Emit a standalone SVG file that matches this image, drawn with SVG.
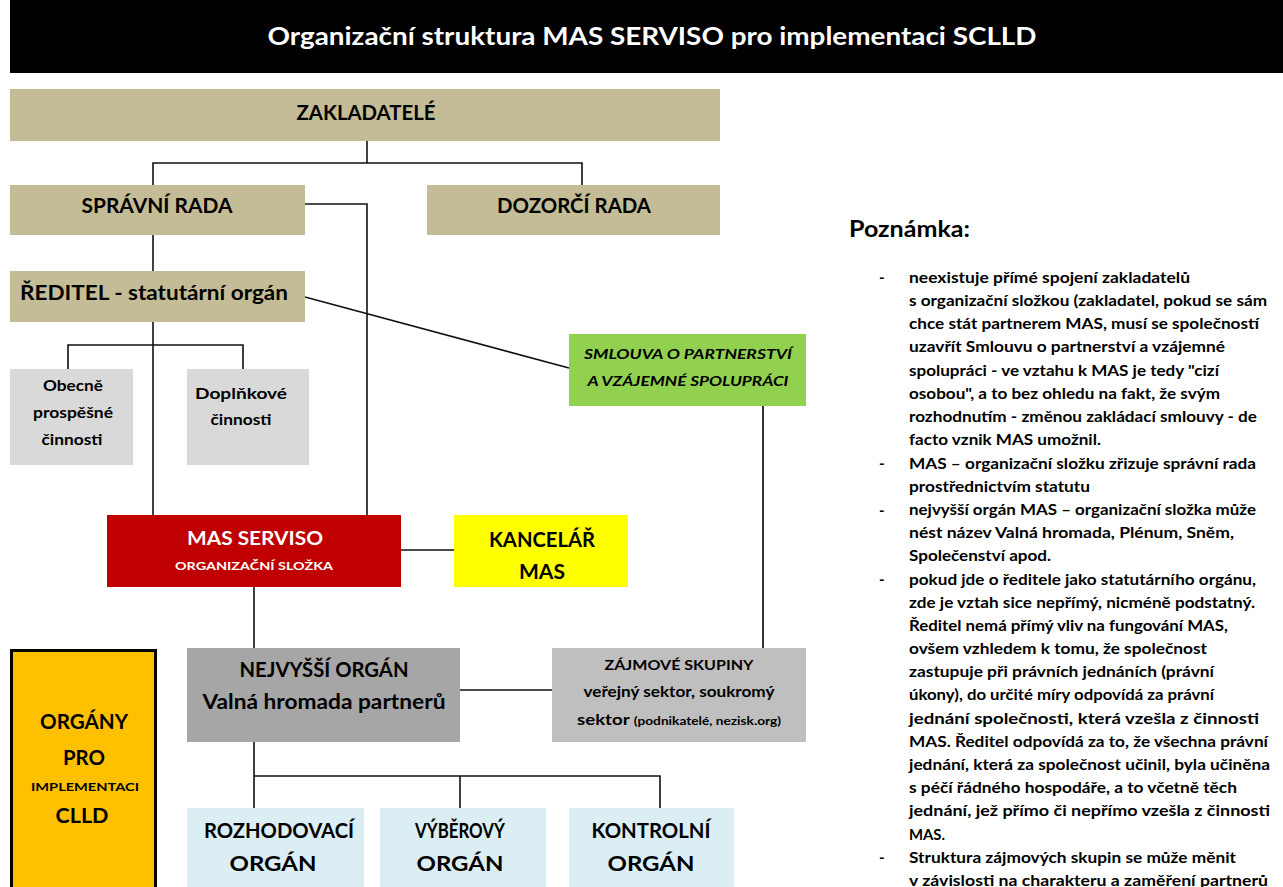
<svg xmlns="http://www.w3.org/2000/svg" width="1283" height="887" viewBox="0 0 1283 887">
<style>
text{font-family:Lato,"Open Sans","Liberation Sans",sans-serif;font-weight:bold;fill:#000;}
.c{text-anchor:middle;}
.tan{fill:#C4BC96;}
.grey{fill:#D9D9D9;}
.blue{fill:#DAEEF3;}
.ln{stroke:#111;stroke-width:1.6;fill:none;}
.note{font-size:15px;}
</style>
<rect x="10" y="0" width="1273" height="73" fill="#000"/>
<text x="652" y="45" class="c" style="fill:#fff;font-size:25px" textLength="769" lengthAdjust="spacingAndGlyphs">Organizační struktura MAS SERVISO pro implementaci SCLLD</text>

<g id="connectors">
<polyline class="ln" points="367,141 367,163"/>
<polyline class="ln" points="153,185 153,163 582,163 582,185"/>
<polyline class="ln" points="305,204 367,204 367,515"/>
<polyline class="ln" points="153,235 153,271"/>
<polyline class="ln" points="153,322 153,515"/>
<polyline class="ln" points="68,369 68,345 243,345 243,369"/>
<line class="ln" x1="305" y1="297" x2="569" y2="368"/>
<line x1="763" y1="406" x2="763" y2="648" stroke="#333" stroke-width="2"/>
<line class="ln" x1="401" y1="550" x2="454" y2="550"/>
<line class="ln" x1="254" y1="587" x2="254" y2="648"/>
<line class="ln" x1="460" y1="690" x2="552" y2="690"/>
<polyline class="ln" points="254,742 254,808"/>
<polyline class="ln" points="254,776 660,776 660,808"/>
<line class="ln" x1="460" y1="776" x2="460" y2="808"/>
</g>

<g id="zakladatele">
<rect class="tan" x="10" y="89" width="710" height="52"/>
<text x="366" y="120" class="c" style="font-size:20px" textLength="139" lengthAdjust="spacingAndGlyphs">ZAKLADATELÉ</text>
</g>
<g id="spravni-rada">
<rect class="tan" x="10" y="185" width="295" height="50"/>
<text x="157" y="213" class="c" style="font-size:20px" textLength="151" lengthAdjust="spacingAndGlyphs">SPRÁVNÍ RADA</text>
</g>
<g id="dozorci-rada">
<rect class="tan" x="427" y="185" width="293" height="50"/>
<text x="574" y="213" class="c" style="font-size:20px" textLength="154" lengthAdjust="spacingAndGlyphs">DOZORČÍ RADA</text>
</g>
<g id="reditel">
<rect class="tan" x="10" y="271" width="295" height="51"/>
<text x="154" y="300" class="c" style="font-size:20px" textLength="268" lengthAdjust="spacingAndGlyphs">ŘEDITEL - statutární orgán</text>
</g>
<g id="obecne">
<rect class="grey" x="10" y="369" width="123" height="96"/>
<text x="73" y="391" class="c" style="font-size:15px" textLength="60" lengthAdjust="spacingAndGlyphs">Obecně</text>
<text x="73" y="418" class="c" style="font-size:15px" textLength="80" lengthAdjust="spacingAndGlyphs">prospěšné</text>
<text x="72" y="445" class="c" style="font-size:15px" textLength="61" lengthAdjust="spacingAndGlyphs">činnosti</text>
</g>
<g id="doplnkove">
<rect class="grey" x="187" y="369" width="122" height="96"/>
<text x="241" y="399" class="c" style="font-size:15px" textLength="92" lengthAdjust="spacingAndGlyphs">Doplňkové</text>
<text x="241" y="425" class="c" style="font-size:15px" textLength="61" lengthAdjust="spacingAndGlyphs">činnosti</text>
</g>
<g id="smlouva">
<rect x="569" y="334" width="237" height="72" fill="#92D050"/>
<text x="688" y="359" class="c" style="font-size:14px;font-style:italic" textLength="208" lengthAdjust="spacingAndGlyphs">SMLOUVA O PARTNERSTVÍ</text>
<text x="688" y="386" class="c" style="font-size:14px;font-style:italic" textLength="201" lengthAdjust="spacingAndGlyphs">A VZÁJEMNÉ SPOLUPRÁCI</text>
</g>
<g id="mas-serviso">
<rect x="107" y="515" width="294" height="72" fill="#C00000"/>
<text x="255" y="545" class="c" style="font-size:19px;fill:#fff" textLength="136" lengthAdjust="spacingAndGlyphs">MAS SERVISO</text>
<text x="254" y="570" class="c" style="font-size:12px;fill:#fff" textLength="158" lengthAdjust="spacingAndGlyphs">ORGANIZAČNÍ SLOŽKA</text>
</g>
<g id="kancelar">
<rect x="454" y="515" width="174" height="72" fill="#FFFF00"/>
<text x="542" y="547" class="c" style="font-size:20px" textLength="106" lengthAdjust="spacingAndGlyphs">KANCELÁŘ</text>
<text x="542" y="579" class="c" style="font-size:20px" textLength="46" lengthAdjust="spacingAndGlyphs">MAS</text>
</g>
<g id="nejvyssi-organ">
<rect x="187" y="648" width="273" height="94" fill="#A6A6A6"/>
<text x="324" y="677" class="c" style="font-size:20px" textLength="169" lengthAdjust="spacingAndGlyphs">NEJVYŠŠÍ ORGÁN</text>
<text x="324" y="709" class="c" style="font-size:20px" textLength="243" lengthAdjust="spacingAndGlyphs">Valná hromada partnerů</text>
</g>
<g id="zajmove-skupiny">
<rect x="552" y="648" width="254" height="94" fill="#BFBFBF"/>
<text x="679" y="670" class="c" style="font-size:14px" textLength="149" lengthAdjust="spacingAndGlyphs">ZÁJMOVÉ SKUPINY</text>
<text x="679" y="697" class="c" style="font-size:15px" textLength="191" lengthAdjust="spacingAndGlyphs">veřejný sektor, soukromý</text>
<text x="679" y="725" class="c" style="font-size:15px" textLength="204" lengthAdjust="spacingAndGlyphs">sektor <tspan style="font-size:11px">(podnikatelé, nezisk.org)</tspan></text>
</g>
<g id="organy-clld">
<rect x="11.5" y="650.5" width="144" height="245" fill="#FFC000" stroke="#000" stroke-width="3"/>
<text x="84" y="729" class="c" style="font-size:20px" textLength="88" lengthAdjust="spacingAndGlyphs">ORGÁNY</text>
<text x="84" y="765" class="c" style="font-size:20px" textLength="42" lengthAdjust="spacingAndGlyphs">PRO</text>
<text x="85" y="791" class="c" style="font-size:12px" textLength="108" lengthAdjust="spacingAndGlyphs">IMPLEMENTACI</text>
<text x="82" y="823" class="c" style="font-size:20px" textLength="53" lengthAdjust="spacingAndGlyphs">CLLD</text>
</g>
<g id="rozhodovaci">
<rect class="blue" x="187" y="808" width="177" height="79"/>
<text x="279" y="838" class="c" style="font-size:20px" textLength="150" lengthAdjust="spacingAndGlyphs">ROZHODOVACÍ</text>
<text x="273" y="871" class="c" style="font-size:20px" textLength="87" lengthAdjust="spacingAndGlyphs">ORGÁN</text>
</g>
<g id="vyberovy">
<rect class="blue" x="380" y="808" width="166" height="79"/>
<text x="460" y="838" class="c" style="font-size:20px" textLength="90" lengthAdjust="spacingAndGlyphs">VÝBĚROVÝ</text>
<text x="460" y="871" class="c" style="font-size:20px" textLength="87" lengthAdjust="spacingAndGlyphs">ORGÁN</text>
</g>
<g id="kontrolni">
<rect class="blue" x="569" y="808" width="165" height="79"/>
<text x="651" y="838" class="c" style="font-size:20px" textLength="119" lengthAdjust="spacingAndGlyphs">KONTROLNÍ</text>
<text x="651" y="871" class="c" style="font-size:20px" textLength="87" lengthAdjust="spacingAndGlyphs">ORGÁN</text>
</g>

<g id="poznamka">
<text x="849" y="237" style="font-size:22px" textLength="121" lengthAdjust="spacingAndGlyphs">Poznámka:</text>
<g class="note">
<text x="879" y="283">-</text>
<text x="879" y="469">-</text>
<text x="879" y="516">-</text>
<text x="879" y="585">-</text>
<text x="879" y="863">-</text>
<text x="909" y="283" textLength="281" lengthAdjust="spacingAndGlyphs">neexistuje přímé spojení zakladatelů</text>
<text x="909" y="306" textLength="358" lengthAdjust="spacingAndGlyphs">s organizační složkou (zakladatel, pokud se sám</text>
<text x="909" y="329" textLength="350" lengthAdjust="spacingAndGlyphs">chce stát partnerem MAS, musí se společností</text>
<text x="909" y="352" textLength="316" lengthAdjust="spacingAndGlyphs">uzavřít Smlouvu o partnerství a vzájemné</text>
<text x="909" y="376" textLength="310" lengthAdjust="spacingAndGlyphs">spolupráci - ve vztahu k MAS je tedy "cizí</text>
<text x="909" y="399" textLength="311" lengthAdjust="spacingAndGlyphs">osobou", a to bez ohledu na fakt, že svým</text>
<text x="909" y="422" textLength="348" lengthAdjust="spacingAndGlyphs">rozhodnutím - změnou zakládací smlouvy - de</text>
<text x="909" y="445" textLength="192" lengthAdjust="spacingAndGlyphs">facto vznik MAS umožnil.</text>
<text x="909" y="469" textLength="347" lengthAdjust="spacingAndGlyphs">MAS – organizační složku zřizuje správní rada</text>
<text x="909" y="492" textLength="181" lengthAdjust="spacingAndGlyphs">prostřednictvím statutu</text>
<text x="909" y="515" textLength="347" lengthAdjust="spacingAndGlyphs">nejvyšší orgán MAS – organizační složka může</text>
<text x="909" y="538" textLength="325" lengthAdjust="spacingAndGlyphs">nést název Valná hromada, Plénum, Sněm,</text>
<text x="909" y="561" textLength="142" lengthAdjust="spacingAndGlyphs">Společenství apod.</text>
<text x="909" y="585" textLength="347" lengthAdjust="spacingAndGlyphs">pokud jde o ředitele jako statutárního orgánu,</text>
<text x="909" y="608" textLength="346" lengthAdjust="spacingAndGlyphs">zde je vztah sice nepřímý, nicméně podstatný.</text>
<text x="909" y="631" textLength="319" lengthAdjust="spacingAndGlyphs">Ředitel nemá přímý vliv na fungování MAS,</text>
<text x="909" y="654" textLength="298" lengthAdjust="spacingAndGlyphs">ovšem vzhledem k tomu, že společnost</text>
<text x="909" y="677" textLength="305" lengthAdjust="spacingAndGlyphs">zastupuje při právních jednáních (právní</text>
<text x="909" y="700" textLength="305" lengthAdjust="spacingAndGlyphs">úkony), do určité míry odpovídá za právní</text>
<text x="909" y="724" textLength="350" lengthAdjust="spacingAndGlyphs">jednání společnosti, která vzešla z činnosti</text>
<text x="909" y="747" textLength="359" lengthAdjust="spacingAndGlyphs">MAS. Ředitel odpovídá za to, že všechna právní</text>
<text x="909" y="770" textLength="361" lengthAdjust="spacingAndGlyphs">jednání, která za společnost učinil, byla učiněna</text>
<text x="909" y="793" textLength="328" lengthAdjust="spacingAndGlyphs">s péčí řádného hospodáře, a to včetně těch</text>
<text x="909" y="816" textLength="361" lengthAdjust="spacingAndGlyphs">jednání, jež přímo či nepřímo vzešla z činnosti</text>
<text x="909" y="840" textLength="36" lengthAdjust="spacingAndGlyphs">MAS.</text>
<text x="909" y="863" textLength="327" lengthAdjust="spacingAndGlyphs">Struktura zájmových skupin se může měnit</text>
<text x="909" y="886" textLength="359" lengthAdjust="spacingAndGlyphs">v závislosti na charakteru a zaměření partnerů</text>
</g>
</g>
</svg>
